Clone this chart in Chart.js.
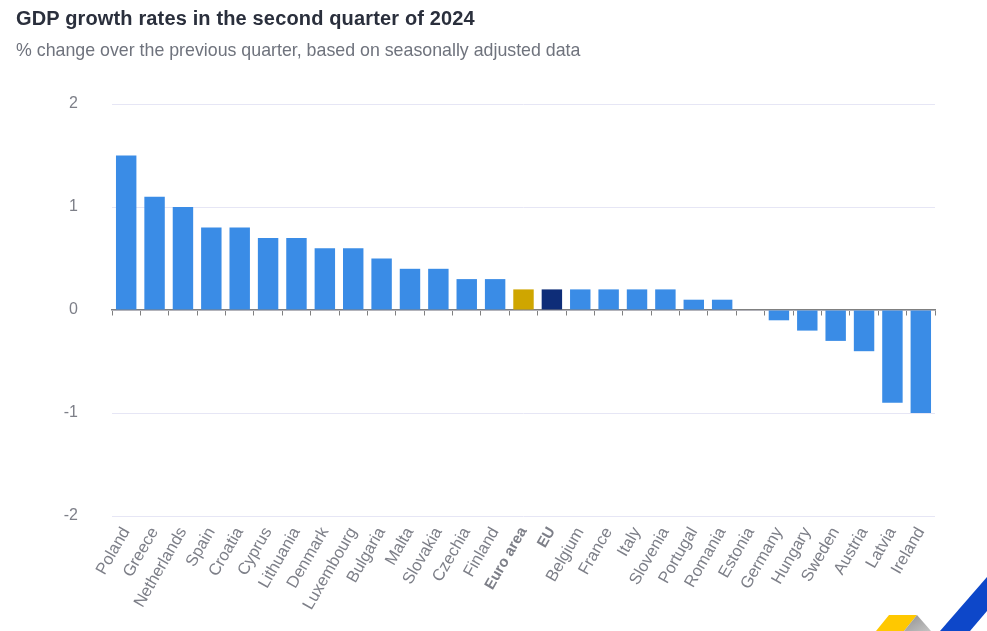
<!DOCTYPE html>
<html>
<head>
  <title>GDP growth rates</title>
  <script src="https://cdn.jsdelivr.net/npm/chart.js"></script>
  <style>
    html, body { margin: 0; padding: 0; background: #fff; overflow: hidden; }
    body { width: 987px; height: 631px; position: relative; font-family: "Liberation Sans", Arial, sans-serif; }
    #title { position: absolute; left: 16px; top: 7px; font-size: 20px; letter-spacing: 0.15px; font-weight: bold; color: #2a2f3c; white-space: nowrap; }
    #subtitle { position: absolute; left: 16px; top: 40px; font-size: 17.8px; color: #6f737d; white-space: nowrap; }
    #wrap { position: absolute; left: 0; top: 0; width: 987px; height: 631px; }
    #logo { position: absolute; left: 860px; top: 560px; }
  </style>
</head>
<body>
  <div id="wrap"><canvas id="myChart"></canvas></div>
  <div id="title">GDP growth rates in the second quarter of 2024</div>
  <div id="subtitle">% change over the previous quarter, based on seasonally adjusted data</div>
  <!-- corner logo from the page, cut off by the window -->
  <svg id="logo" width="127" height="71" viewBox="0 0 127 71">
    <defs>
      <linearGradient id="grey" x1="0" y1="0" x2="1" y2="1">
        <stop offset="0" stop-color="#8f8f8f"/>
        <stop offset="1" stop-color="#c4c4c4"/>
      </linearGradient>
    </defs>
    <polygon points="16,71 29,55 57,55 44,71" fill="#ffc800"/>
    <polygon points="44,71 57,55 71,71" fill="url(#grey)"/>
    <polygon points="80,71 127,17 127,51 110,71" fill="#0d47c9"/>
  </svg>

  <script>
    const countries = ['Poland', 'Greece', 'Netherlands', 'Spain', 'Croatia', 'Cyprus', 'Lithuania', 'Denmark',
      'Luxembourg', 'Bulgaria', 'Malta', 'Slovakia', 'Czechia', 'Finland', 'Euro area', 'EU', 'Belgium', 'France',
      'Italy', 'Slovenia', 'Portugal', 'Romania', 'Estonia', 'Germany', 'Hungary', 'Sweden', 'Austria', 'Latvia', 'Ireland'];
    const growth = [1.5, 1.1, 1.0, 0.8, 0.8, 0.7, 0.7, 0.6,
      0.6, 0.5, 0.4, 0.4, 0.3, 0.3, 0.2, 0.2, 0.2, 0.2,
      0.2, 0.2, 0.1, 0.1, 0, -0.1, -0.2, -0.3, -0.4, -0.9, -1.0];
    const yTicks = [-2, -1, 0, 1, 2];

    function barColor(name) {
      if (name === 'Euro area') return '#cfa600';
      if (name === 'EU') return '#0e2d78';
      return '#3a8ce6';
    }

    Chart.defaults.font.family = '"Liberation Sans", Arial, sans-serif';
    Chart.defaults.animation = false;

    const ctx = document.getElementById('myChart').getContext('2d');
    const myChart = new Chart(ctx, {
      type: 'bar',
      data: {
        labels: countries,
        datasets: [{
          label: 'GDP growth',
          data: growth,
          backgroundColor: countries.map(barColor),
          borderWidth: 0,
          categoryPercentage: 1,
          barPercentage: 0.72,
          xAxisID: 'x'
        }]
      },
      options: {
        responsive: true,
        maintainAspectRatio: false,
        layout: { padding: { top: 104, right: 52, bottom: 0, left: 0 } },
        plugins: { legend: { display: false }, tooltip: { enabled: false } },
        scales: {
          x: {
            position: 'bottom',
            offset: true,
            grid: { display: false },
            border: { display: false },
            ticks: {
              autoSkip: false,
              minRotation: 60,
              maxRotation: 60,
              padding: 0,
              color: '#7d7f88',
              font: (c) => {
                const bold = countries[c.index] === 'Euro area' || countries[c.index] === 'EU';
                return { size: bold ? 15 : 16.5, weight: bold ? 'bold' : 'normal' };
              }
            },
            afterFit: (scale) => { scale.height = 115; }
          },
          // second axis only draws the tick marks along the zero line
          zero: {
            type: 'category',
            axis: 'x',
            position: { y: 0 },
            offset: true,
            grid: { drawOnChartArea: false, offset: true, drawTicks: true, tickLength: 5, color: '#808080' },
            border: { display: true, color: '#808080', width: 1.5 },
            ticks: { display: false }
          },
          y: {
            min: -2,
            max: 2,
            afterBuildTicks: (scale) => { scale.ticks = yTicks.map((v) => ({ value: v })); },
            grid: { color: '#e6e6f5', drawTicks: false },
            border: { display: false },
            ticks: { padding: 34, color: '#7d7f88', font: { size: 16 } },
            afterFit: (scale) => { scale.width = 112; }
          }
        }
      }
    });
  </script>
</body>
</html>
